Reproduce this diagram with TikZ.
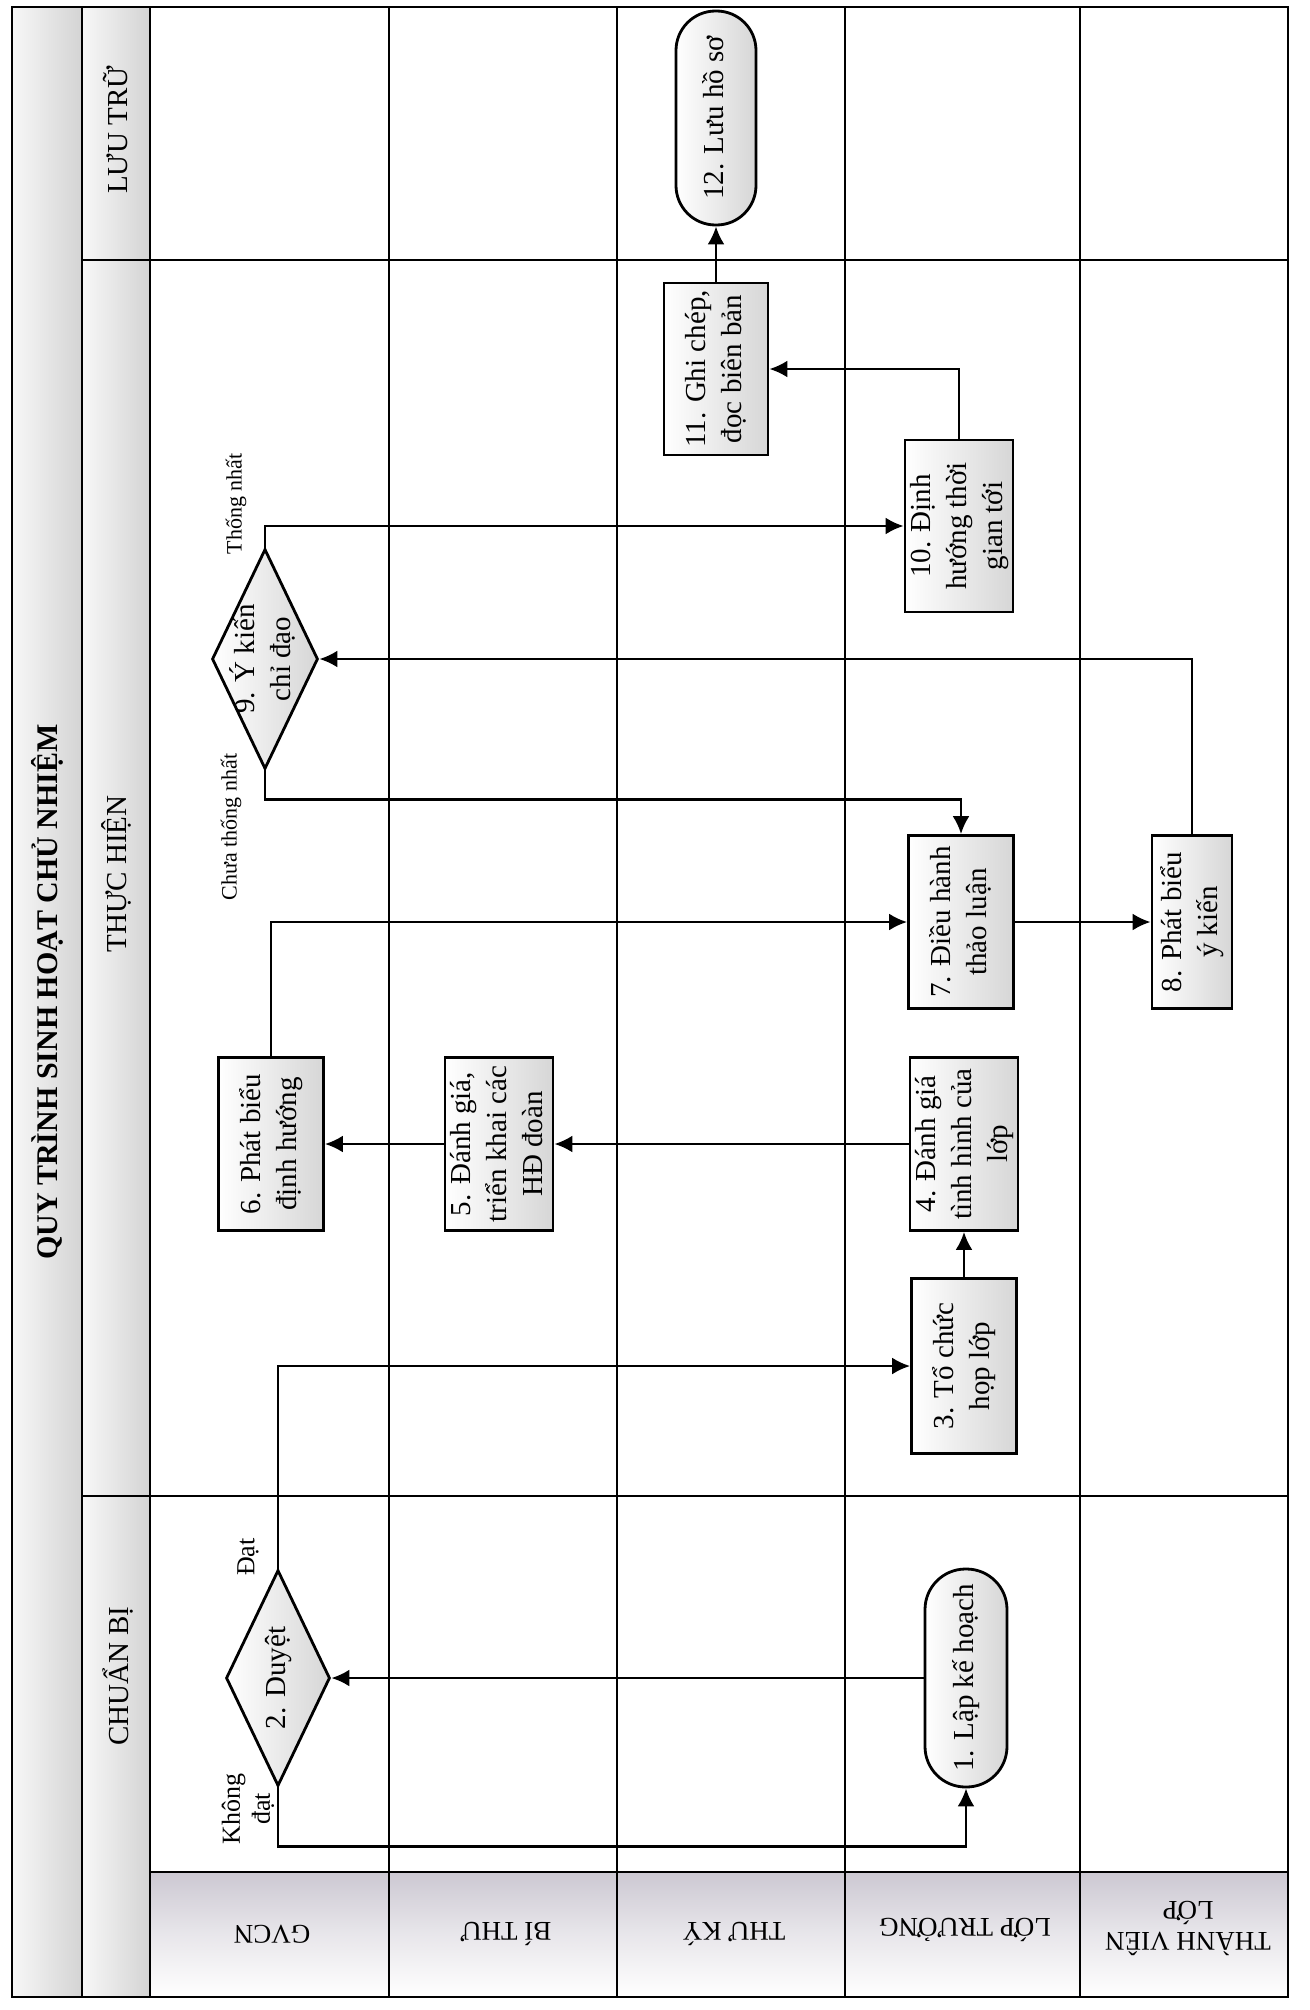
\documentclass[tikz,border=0pt]{standalone}
\usepackage{fontspec}
\setmainfont{Liberation Serif}
\usetikzlibrary{arrows.meta,shapes.geometric}

% font sizes (1 unit = 1pt)
\newcommand\ftxt{\fontsize{29}{36}\selectfont}
\newcommand\fhead{\fontsize{29}{34}\selectfont}
\newcommand\flane{\fontsize{27}{31}\selectfont}
\newcommand\fedge{\fontsize{26}{30}\selectfont}
\newcommand\fsmall{\fontsize{22}{26}\selectfont}
\newcommand\ftitle{\fontsize{30}{36}\selectfont\bfseries}
% text turned to read upwards, lines centred
\newcommand\rtxt[1]{\rotatebox{90}{\begin{tabular}{@{}c@{}}#1\end{tabular}}}

\definecolor{hdr}{RGB}{204,200,210}

\begin{document}
\begin{tikzpicture}[x=1pt,y=-1pt,
  grid/.style={line width=1.4pt},
  box/.style={draw, line width=2.8pt, left color=white, right color=gray!32,
    minimum width=105pt, minimum height=173pt, inner sep=0pt, font=\ftxt},
  narrowbox/.style={box, minimum width=80pt},
  term/.style={box, rounded corners=39.5pt, minimum width=80pt, minimum height=214pt},
  dia/.style={draw, shape=diamond, line width=2.8pt, left color=white, right color=gray!32,
    minimum width=106pt, minimum height=220pt, inner sep=0pt},
  flow/.style={line width=2.6pt, -{Latex[length=18pt,width=17pt]}},
  edgelab/.style={rotate=90, align=center, font=\fedge, inner sep=0pt},
  phaselab/.style={rotate=90, font=\fhead},
  lanelab/.style={rotate=180, align=center, font=\flane}
]
\useasboundingbox (0,0) rectangle (1309,2010);
\fill[white] (0,0) rectangle (1309,2010);

% header bands
\shade[left color=gray!6, right color=gray!34] (12,7) rectangle (82,1997);
\shade[left color=gray!6, right color=gray!34] (82,7) rectangle (150,1997);
\shade[top color=hdr, bottom color=white, middle color=hdr!45] (150,1872) rectangle (1288,1997);

% swimlane grid
\draw[grid] (12,7) rectangle (1288,1997);
\draw[grid] (82,7) -- (82,1997);
\draw[grid] (150,7) -- (150,1997);
\foreach \x in {389,617,845,1080} \draw[grid] (\x,7) -- (\x,1997);
\draw[grid] (82,260) -- (1288,260);
\draw[grid] (82,1496) -- (1288,1496);
\draw[grid] (150,1872) -- (1288,1872);

% titles
\node[rotate=90, font=\ftitle] (title) at (47,992) {QUY TRÌNH SINH HOẠT CHỦ NHIỆM};
\node[phaselab] (ph1) at (116,130) {LƯU TRỮ};
\node[phaselab] (ph2) at (116,874) {THỰC HIỆN};
\node[phaselab] (ph3) at (118,1676) {CHUẨN BỊ};

\node[lanelab] (la1) at (272,1934) {GVCN};
\node[lanelab] (la2) at (506,1934) {BÍ THƯ};
\node[lanelab] (la3) at (734,1934) {THƯ KÝ};
\node[lanelab] (la4) at (965,1930) {LỚP TRƯỞNG};
\node[lanelab] (la5) at (1188,1928) {THÀNH VIÊN\\LỚP};

% steps
\node[term] (n12) at (716,118) {\rtxt{12. Lưu hồ sơ}};
\node[box, minimum width=104pt, minimum height=172pt] (n11) at (716,369) {\rtxt{11. Ghi chép,\\đọc biên bản}};
\node[box, minimum height=172pt] (n10) at (959,526) {\rtxt{10. Định\\hướng thời\\gian tới}};
\node[dia, label={[font=\ftxt]center:\rtxt{9. Ý kiến\\chỉ đạo}}] (d9) at (265,659) {};
\node[box] (n7) at (961,922) {\rtxt{7. Điều hành\\thảo luận}};
\node[narrowbox] (n8) at (1192,922) {\rtxt{8. Phát biểu\\ý kiến}};
\node[box] (n6) at (271,1144) {\rtxt{6. Phát biểu\\định hướng}};
\node[box, minimum width=104pt] (n5) at (499,1144) {\rtxt{5. Đánh giá,\\triển khai các\\HĐ đoàn}};
\node[box] (n4) at (964,1144) {\rtxt{4. Đánh giá\\tình hình của\\lớp}};
\node[box, minimum height=175pt] (n3) at (964,1366) {\rtxt{3. Tổ chức\\họp lớp}};
\node[dia, minimum width=104pt, minimum height=216pt,
  label={[font=\ftxt]center:\rtxt{2. Duyệt}}] (d2) at (278,1678) {};
\node[term, minimum width=82pt, minimum height=218pt, rounded corners=40.5pt] (n1) at (966,1678) {\rtxt{1. Lập kế hoạch}};

% branch labels
\node[edgelab, font=\fsmall] (lt) at (236,504) {Thống nhất};
\node[edgelab, font=\fsmall] (lc) at (231,827) {Chưa thống nhất};
\node[edgelab] (ld) at (248,1557) {Đạt};
\node[edgelab] (lk) at (248,1809) {Không\\đạt};

% connectors
\draw[flow] (d2.south) -- ++(0,59) -| (n1.south);
\draw[flow] (n1.west) -- (d2.east);
\draw[flow] (d2.north) |- (n3.west);
\draw[flow] (n3.north) -- (n4.south);
\draw[flow] (n4.west) -- (n5.east);
\draw[flow] (n5.west) -- (n6.east);
\draw[flow] (n6.north) |- (n7.west);
\draw[flow] (n7.east) -- (n8.west);
\draw[flow] (n8.north) |- (d9.east);
\draw[flow] (d9.south) -- ++(0,29) -| (n7.north);
\draw[flow] (d9.north) |- (n10.west);
\draw[flow] (n10.north) |- (n11.east);
\draw[flow] (n11.north) -- (n12.south);
\end{tikzpicture}
\end{document}
